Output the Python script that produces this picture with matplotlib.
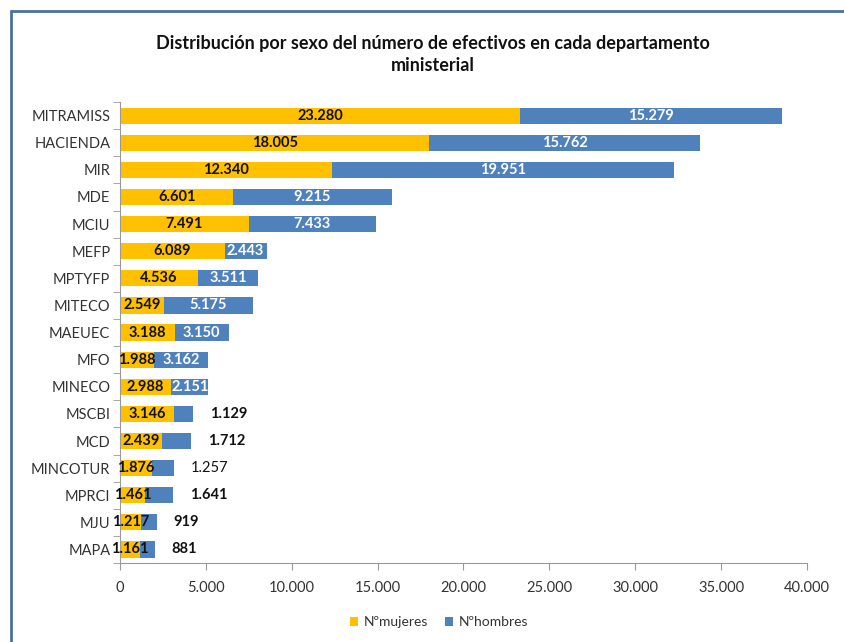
import matplotlib
matplotlib.use("Agg")
import matplotlib.pyplot as plt
from matplotlib.ticker import FuncFormatter
from matplotlib.patches import Rectangle

categories = ["MITRAMISS", "HACIENDA", "MIR", "MDE", "MCIU", "MEFP", "MPTYFP", "MITECO",
              "MAEUEC", "MFO", "MINECO", "MSCBI", "MCD", "MINCOTUR", "MPRCI", "MJU", "MAPA"]
mujeres = [23280, 18005, 12340, 6601, 7491, 6089, 4536, 2549, 3188, 1988, 2988, 3146, 2439, 1876, 1461, 1217, 1161]
hombres = [15279, 15762, 19951, 9215, 7433, 2443, 3511, 5175, 3150, 3162, 2151, 1129, 1712, 1257, 1641, 919, 881]
xticks = [0, 5000, 10000, 15000, 20000, 25000, 30000, 35000, 40000]

title = "Distribución por sexo del número de efectivos en cada departamento\nministerial"
FONT = "Lato"
YEL = "#FFC000"
BLU = "#4F81BD"

def fmt(v):
    return f"{v:,}".replace(",", ".")

fig = plt.figure(figsize=(8.44, 6.42), dpi=100)
ax = fig.add_axes([0.1422, 0.123, 0.956 - 0.1422, 0.841 - 0.123])

n = len(categories)
ypos = list(range(n))
h = 0.6
ax.barh(ypos, mujeres, height=h, color=YEL, label="Nºmujeres")
ax.barh(ypos, hombres, left=mujeres, height=h, color=BLU, label="Nºhombres")

ax.set_ylim(n - 0.5, -0.5)
ax.set_xlim(0, 40000)
ax.set_xticks(xticks)
ax.xaxis.set_major_formatter(FuncFormatter(lambda v, p: fmt(int(v))))
ax.set_yticks(ypos)
ax.set_yticklabels(categories, family=FONT, fontsize=10.5, color="#333333")
ax.set_yticks([i - 0.5 for i in range(n + 1)], minor=True)
ax.tick_params(axis="y", which="major", length=0, pad=7)
ax.tick_params(axis="y", which="minor", length=5, color="#999999", direction="out")
ax.tick_params(axis="x", length=5, color="#999999", direction="out", pad=8)
for lbl in ax.get_xticklabels():
    lbl.set_family(FONT)
    lbl.set_fontsize(10.5)
    lbl.set_color("#333333")

for s in ["top", "right"]:
    ax.spines[s].set_visible(False)
ax.spines["left"].set_color("#999999")
ax.spines["bottom"].set_color("#999999")

outside = {"MSCBI", "MCD", "MINCOTUR", "MPRCI", "MJU", "MAPA"}
for i, (c, m, hv) in enumerate(zip(categories, mujeres, hombres)):
    ax.text(m / 2, i, fmt(m), ha="center", va="center", family=FONT, fontsize=10.5,
            fontweight="bold", color="#111111")
    if c in outside:
        w = "normal" if c == "MINCOTUR" else "bold"
        ax.annotate(fmt(hv), xy=(m + hv, i), xytext=(12, 0), textcoords="offset points",
                    ha="left", va="center", family=FONT, fontsize=10.5, fontweight=w,
                    color="#111111")
    else:
        ax.text(m + hv / 2, i, fmt(hv), ha="center", va="center", family=FONT, fontsize=10.5,
                fontweight="bold", color="white")

fig.text(0.513, 0.915, title, ha="center", va="center", family=FONT, fontsize=13,
         fontweight="bold", color="#111111", linespacing=1.4)

fig.legend(loc="center", bbox_to_anchor=(0.52, 0.031), ncol=2, frameon=False,
           prop={"family": FONT, "size": 10}, handlelength=0.6, handleheight=0.6,
           columnspacing=1.2, handletextpad=0.4, labelcolor="#333333")

fig.patches.append(Rectangle((11 / 844, -0.05), 1.05, 1 - 11 / 642 + 0.05, transform=fig.transFigure,
                             fill=False, edgecolor="#4A6FA5", linewidth=2))

fig.savefig("out.png", dpi=100)
